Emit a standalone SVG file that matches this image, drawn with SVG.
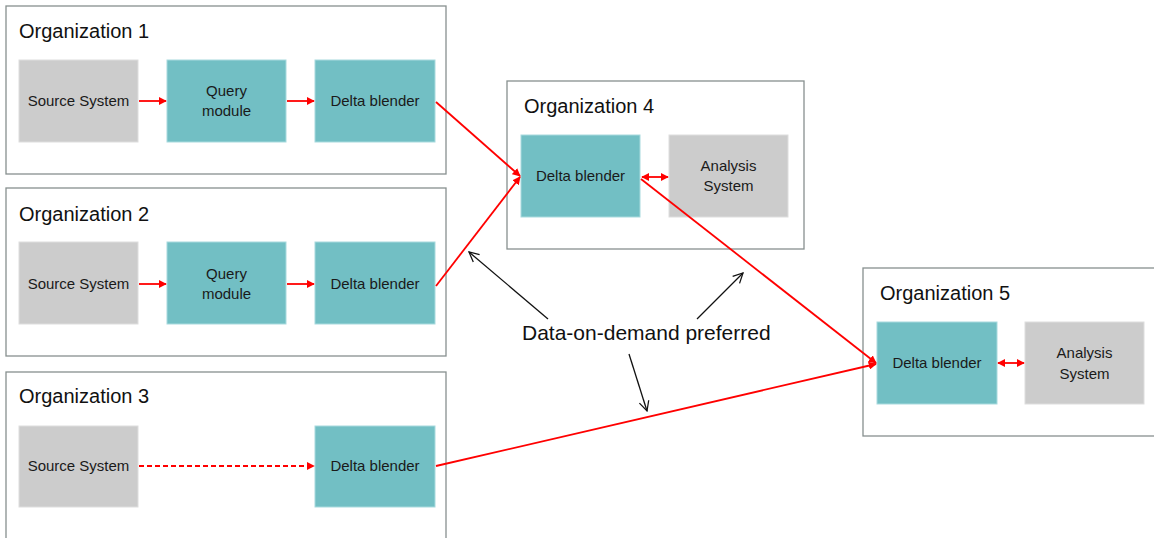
<svg xmlns="http://www.w3.org/2000/svg" width="1154" height="538" viewBox="0 0 1154 538">
<style>
.org{fill:#fff;stroke:#87908f;stroke-width:1.3}
.title{font-family:"Liberation Sans",Arial,sans-serif;font-size:20px;fill:#111}
.teal{fill:#72bfc4;stroke:#a8dade;stroke-width:1}
.gray{fill:#cccccc;stroke:#dedede;stroke-width:1}
.lbl{font-family:"Liberation Sans",Arial,sans-serif;font-size:15px;fill:#1a1a1a;text-anchor:middle}
.red{stroke:#ff0000;stroke-width:1.8;fill:none}
.blk{stroke:#111;stroke-width:1.3;fill:none}
.note{font-family:"Liberation Sans",Arial,sans-serif;font-size:21px;fill:#111}
</style>
<defs>
<marker id="rh" viewBox="0 0 10 10" refX="9" refY="5" markerWidth="4.5" markerHeight="4.5" orient="auto-start-reverse" markerUnits="strokeWidth">
<path d="M0,0 L10,5 L0,10 z" fill="#ff0000"/>
</marker>
<marker id="bh" viewBox="0 0 12 12" refX="11" refY="6" markerWidth="9" markerHeight="9" orient="auto" markerUnits="strokeWidth">
<path d="M1,1 L11,6 L1,11" fill="none" stroke="#111" stroke-width="1.3"/>
</marker>
</defs>
<rect width="1154" height="538" fill="#fff"/>

<g id="org1">
<rect class="org" x="6" y="6" width="440" height="168"/>
<text class="title" x="19" y="38">Organization 1</text>
</g>
<g id="org2">
<rect class="org" x="6" y="188" width="440" height="168"/>
<text class="title" x="19" y="221">Organization 2</text>
</g>
<g id="org3">
<rect class="org" x="6" y="372" width="440" height="180"/>
<text class="title" x="19" y="403">Organization 3</text>
</g>
<g id="org4">
<rect class="org" x="507" y="81" width="297" height="168"/>
<text class="title" x="524" y="113">Organization 4</text>
</g>
<g id="org5">
<rect class="org" x="863" y="268" width="300" height="168"/>
<text class="title" x="880" y="300">Organization 5</text>
</g>

<g id="src1"><rect class="gray" x="19" y="60" width="119" height="82"/><text class="lbl" x="78.5" y="106">Source System</text></g>
<g id="qm1"><rect class="teal" x="167" y="60" width="119" height="82"/><text class="lbl" x="226.5" y="96">Query</text><text class="lbl" x="226.5" y="116">module</text></g>
<g id="db1"><rect class="teal" x="315" y="60" width="120" height="82"/><text class="lbl" x="375" y="106">Delta blender</text></g>

<g id="src2"><rect class="gray" x="19" y="242" width="119" height="82"/><text class="lbl" x="78.5" y="289">Source System</text></g>
<g id="qm2"><rect class="teal" x="167" y="242" width="119" height="82"/><text class="lbl" x="226.5" y="279">Query</text><text class="lbl" x="226.5" y="299">module</text></g>
<g id="db2"><rect class="teal" x="315" y="242" width="120" height="82"/><text class="lbl" x="375" y="289">Delta blender</text></g>

<g id="src3"><rect class="gray" x="19" y="426" width="119" height="81"/><text class="lbl" x="78.5" y="471">Source System</text></g>
<g id="db3"><rect class="teal" x="315" y="426" width="120" height="81"/><text class="lbl" x="375" y="471">Delta blender</text></g>

<g id="db4"><rect class="teal" x="521" y="135" width="119" height="82"/><text class="lbl" x="580.5" y="181">Delta blender</text></g>
<g id="as4"><rect class="gray" x="669" y="135" width="119" height="82"/><text class="lbl" x="728.5" y="171">Analysis</text><text class="lbl" x="728.5" y="191">System</text></g>

<g id="db5"><rect class="teal" x="877" y="322" width="120" height="82"/><text class="lbl" x="937" y="368">Delta blender</text></g>
<g id="as5"><rect class="gray" x="1025" y="322" width="119" height="82"/><text class="lbl" x="1084.5" y="358">Analysis</text><text class="lbl" x="1084.5" y="379">System</text></g>

<g id="connectors">
<line class="red" x1="139" y1="101" x2="166" y2="101" marker-end="url(#rh)"/>
<line class="red" x1="287" y1="101" x2="314" y2="101" marker-end="url(#rh)"/>
<line class="red" x1="139" y1="284" x2="166" y2="284" marker-end="url(#rh)"/>
<line class="red" x1="287" y1="284" x2="314" y2="284" marker-end="url(#rh)"/>
<line class="red" x1="139" y1="466" x2="314" y2="466" stroke-dasharray="5,3" marker-end="url(#rh)"/>
<line class="red" x1="436" y1="102" x2="520" y2="176" marker-end="url(#rh)"/>
<line class="red" x1="436" y1="286" x2="520" y2="177" marker-end="url(#rh)"/>
<line class="red" x1="642" y1="177" x2="668" y2="177" marker-start="url(#rh)" marker-end="url(#rh)"/>
<line class="red" x1="641" y1="179" x2="876" y2="363" marker-end="url(#rh)"/>
<line class="red" x1="436" y1="466" x2="876" y2="364" marker-end="url(#rh)"/>
<line class="red" x1="998" y1="363" x2="1024" y2="363" marker-start="url(#rh)" marker-end="url(#rh)"/>
<line class="blk" x1="548" y1="319" x2="469" y2="252" marker-end="url(#bh)"/>
<line class="blk" x1="697" y1="319" x2="743" y2="273" marker-end="url(#bh)"/>
<line class="blk" x1="629" y1="354" x2="647" y2="411" marker-end="url(#bh)"/>
</g>
<text class="note" x="522" y="340">Data-on-demand preferred</text>
</svg>
